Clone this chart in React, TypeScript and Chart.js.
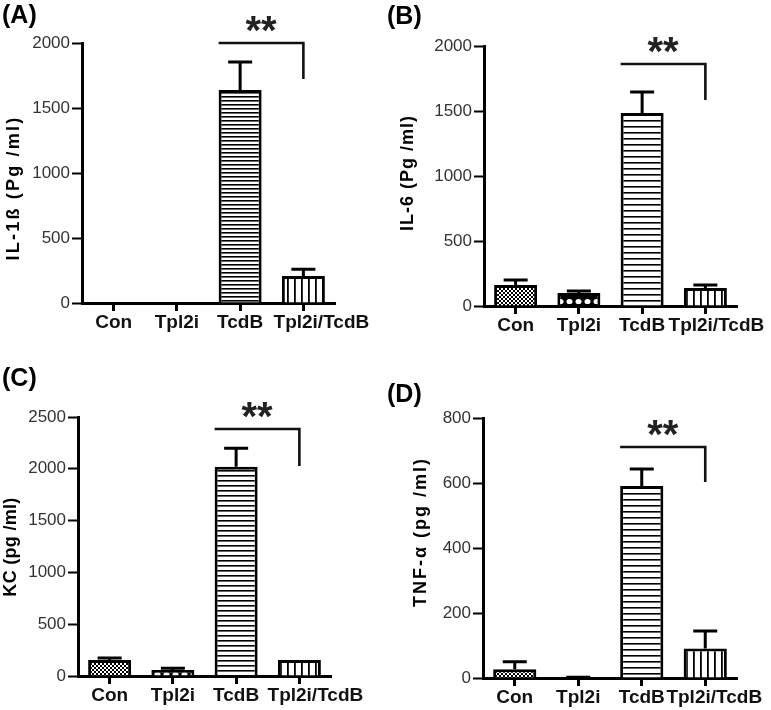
import React, { useEffect, useRef } from 'react';
import { Chart, registerables } from 'chart.js';

Chart.register(...registerables);

const categories = ['Con', 'Tpl2i', 'TcdB', 'Tpl2i/TcdB'];

const il1bMean = [0, 0, 1638, 208];
const il1bSem = [0, 0, 216, 52];
const il6Mean = [162, 100, 1485, 138];
const il6Sem = [38, 15, 161, 24];
const kcMean = [154, 58, 2020, 154];
const kcSem = [20, 16, 178, 0];
const tnfMean = [27, 0, 591, 91];
const tnfSem = [23, 2, 52, 54];

const panelLetters = ['(A)', '(B)', '(C)', '(D)'];
const yTitles = ['IL-1ß (Pg /ml)', 'IL-6 (Pg /ml)', 'KC (pg /ml)', 'TNF-α (pg /ml)'];
const yMaxes = [2000, 2000, 2500, 800];
const ySteps = [500, 500, 500, 200];
// bracket top value / drop value (data units)
const bracketTops = [2000, 1862, 2384, 711];
const bracketDrops = [1723, 1585, 2027, 603];
const sigLabel = '**';

type Panel = {
  mean: number[];
  sem: number[];
  letter: string;
  title: string;
  yMax: number;
  step: number;
  bTop: number;
  bDrop: number;
  x: number; y: number; w: number; h: number;
  left: number; top: number; right: number; bottom: number;
  titleX: number; titleY: number; titleSpacing: number;
  letterY: number;
  hSpacing: number;
  lastShift: number;
};

const panels: Panel[] = [
  { mean: il1bMean, sem: il1bSem, letter: panelLetters[0], title: yTitles[0], yMax: yMaxes[0], step: ySteps[0], bTop: bracketTops[0], bDrop: bracketDrops[0],
    x: 0, y: 0, w: 385, h: 355, left: 82, top: 43, right: 335, bottom: 303, titleX: 14, titleY: 188, titleSpacing: 2.2, letterY: 16, hSpacing: 4, lastShift: 18 },
  { mean: il6Mean, sem: il6Sem, letter: panelLetters[1], title: yTitles[1], yMax: yMaxes[1], step: ySteps[1], bTop: bracketTops[1], bDrop: bracketDrops[1],
    x: 385, y: 0, w: 386, h: 355, left: 99, top: 46, right: 352, bottom: 306, titleX: 23, titleY: 173, titleSpacing: 1.0, letterY: 17, hSpacing: 6, lastShift: 11 },
  { mean: kcMean, sem: kcSem, letter: panelLetters[2], title: yTitles[2], yMax: yMaxes[2], step: ySteps[2], bTop: bracketTops[2], bDrop: bracketDrops[2],
    x: 0, y: 355, w: 385, h: 355, left: 78, top: 62, right: 331, bottom: 321, titleX: 11, titleY: 192, titleSpacing: 0.3, letterY: 24, hSpacing: 5, lastShift: 16 },
  { mean: tnfMean, sem: tnfSem, letter: panelLetters[3], title: yTitles[3], yMax: yMaxes[3], step: ySteps[3], bTop: bracketTops[3], bDrop: bracketDrops[3],
    x: 385, y: 355, w: 386, h: 355, left: 98, top: 63, right: 352, bottom: 323, titleX: 36, titleY: 177, titleSpacing: 2.0, letterY: 40, hSpacing: 6, lastShift: 9 },
];

const FONT = '"Liberation Sans", Arial, sans-serif';

function makePatterns(hSpacing: number): CanvasPattern[] {
  const mk = (w: number, h: number, draw: (g: CanvasRenderingContext2D) => void) => {
    const c = document.createElement('canvas');
    c.width = w; c.height = h;
    const g = c.getContext('2d')!;
    draw(g);
    return g.createPattern(c, 'repeat')!;
  };
  const checker = mk(4, 4, (g) => {
    g.fillStyle = '#000'; g.fillRect(0, 0, 4, 4);
    g.fillStyle = '#fff'; g.fillRect(0, 0, 2, 2); g.fillRect(2, 2, 2, 2);
  });
  const dots = mk(9, 9, (g) => {
    g.fillStyle = '#000'; g.fillRect(0, 0, 9, 9);
    g.fillStyle = '#fff'; g.beginPath(); g.ellipse(4.5, 4.5, 3, 2.6, 0, 0, Math.PI * 2); g.fill();
  });
  const hlines = mk(8, hSpacing, (g) => {
    g.fillStyle = '#fff'; g.fillRect(0, 0, 8, hSpacing);
    g.fillStyle = '#000'; g.fillRect(0, 0, 8, 1.6);
  });
  const vlines = mk(7, 8, (g) => {
    g.fillStyle = '#fff'; g.fillRect(0, 0, 7, 8);
    g.fillStyle = '#000'; g.fillRect(0, 0, 1.8, 8);
  });
  return [checker, dots, hlines, vlines];
}

function PanelChart({ p }: { p: Panel }) {
  const ref = useRef<HTMLCanvasElement | null>(null);
  useEffect(() => {
    if (!ref.current) return;
    const pats = makePatterns(p.hSpacing);
    const overlay = {
      id: 'overlay',
      afterDatasetsDraw(chart: any) {
        const ctx: CanvasRenderingContext2D = chart.ctx;
        const ys = chart.scales.y;
        const meta = chart.getDatasetMeta(0);
        ctx.save();
        ctx.strokeStyle = '#000';
        ctx.lineWidth = 3;
        ctx.lineCap = 'butt';
        meta.data.forEach((bar: any, i: number) => {
          const s = p.sem[i];
          if (!(s > 0)) return;
          const x = bar.x;
          const t = ys.getPixelForValue(p.mean[i]);
          const e = ys.getPixelForValue(p.mean[i] + s);
          ctx.beginPath();
          ctx.moveTo(x, t);
          ctx.lineTo(x, e);
          ctx.moveTo(x - 12, e);
          ctx.lineTo(x + 12, e);
          ctx.stroke();
        });
        const b2 = meta.data[2];
        const b3 = meta.data[3];
        const xs = b2.x - b2.width / 2;
        const xe = b3.x;
        const yb = ys.getPixelForValue(p.bTop);
        const yd = ys.getPixelForValue(p.bDrop);
        ctx.lineWidth = 2.6;
        ctx.strokeStyle = '#111';
        ctx.beginPath();
        ctx.moveTo(xs, yb);
        ctx.lineTo(xe, yb);
        ctx.lineTo(xe, yd);
        ctx.stroke();
        ctx.fillStyle = '#222';
        ctx.font = `bold 40px ${FONT}`;
        ctx.textAlign = 'center';
        ctx.textBaseline = 'alphabetic';
        ctx.fillText(sigLabel, (xs + xe) / 2, yb - 22 + 23);
        ctx.restore();
      },
      afterDraw(chart: any) {
        const ctx: CanvasRenderingContext2D = chart.ctx;
        const xsScale = chart.scales.x;
        const area = chart.chartArea;
        ctx.save();
        ctx.fillStyle = '#111';
        ctx.font = `bold 19px ${FONT}`;
        ctx.textAlign = 'center';
        ctx.textBaseline = 'middle';
        (chart.data.labels as string[]).forEach((lab, i) => {
          const x = xsScale.getPixelForValue(i) + (i === 3 ? p.lastShift : 0);
          ctx.fillText(lab, x, area.bottom + 20);
        });
        ctx.fillStyle = '#000';
        ctx.font = `bold 25px ${FONT}`;
        ctx.textAlign = 'left';
        ctx.textBaseline = 'middle';
        ctx.fillText(p.letter, 2, p.letterY);
        ctx.translate(p.titleX, p.titleY);
        ctx.rotate(-Math.PI / 2);
        ctx.font = `bold 18px ${FONT}`;
        (ctx as any).letterSpacing = `${p.titleSpacing}px`;
        ctx.textAlign = 'center';
        ctx.textBaseline = 'middle';
        ctx.fillText(p.title, 0, 0);
        ctx.restore();
      },
    };
    const chart = new Chart(ref.current, {
      type: 'bar',
      data: {
        labels: categories,
        datasets: [
          {
            data: p.mean,
            backgroundColor: pats as any,
            borderColor: '#000',
            borderWidth: 3,
            barPercentage: 0.68,
            categoryPercentage: 1,
          },
        ],
      },
      options: {
        animation: false,
        responsive: false,
        maintainAspectRatio: false,
        events: [],
        layout: { padding: { top: p.top, right: p.w - p.right, left: 0, bottom: 0 } },
        plugins: { legend: { display: false }, tooltip: { enabled: false }, title: { display: false } },
        scales: {
          x: {
            type: 'category',
            offset: true,
            grid: { display: true, offset: false, drawOnChartArea: false, drawTicks: true, tickLength: 8, tickWidth: 3, tickColor: '#000' },
            border: { display: true, width: 3, color: '#000' },
            ticks: { display: false },
            afterFit: (s: any) => { s.height = p.h - p.bottom; },
          },
          y: {
            min: 0,
            max: p.yMax,
            grid: { display: true, drawOnChartArea: false, drawTicks: true, tickLength: 10, tickWidth: 2, tickColor: '#000' },
            border: { display: true, width: 3, color: '#000' },
            ticks: {
              stepSize: p.step,
              color: '#333',
              padding: 2,
              font: { family: FONT, size: 17 },
              callback: (v: any) => String(v),
            },
            afterFit: (s: any) => { s.width = p.left; },
          },
        },
      },
      plugins: [overlay],
    });
    return () => chart.destroy();
  }, [p]);
  return (
    <canvas
      ref={ref}
      width={p.w}
      height={p.h}
      style={{ position: 'absolute', left: p.x, top: p.y, width: p.w, height: p.h }}
    />
  );
}

export default function App() {
  return (
    <div style={{ position: 'absolute', left: 0, top: 0, width: 771, height: 710, background: '#fff', overflow: 'hidden' }}>
      {panels.map((p, i) => (
        <PanelChart key={i} p={p} />
      ))}
    </div>
  );
}
